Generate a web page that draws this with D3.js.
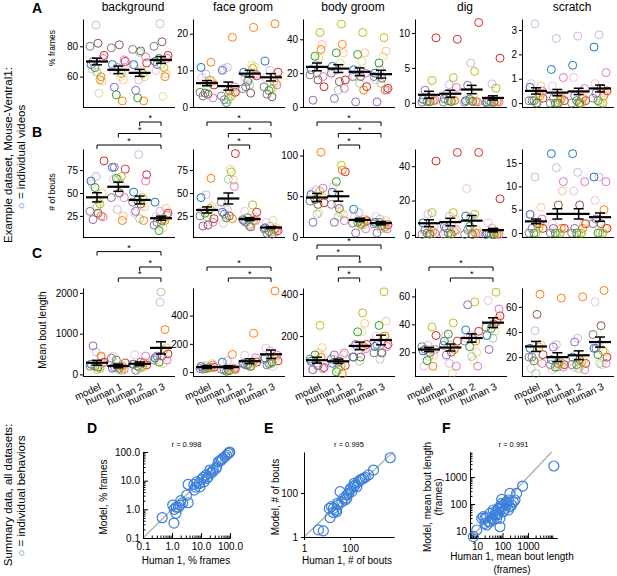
<!DOCTYPE html>
<html>
<head>
<meta charset="utf-8">
<script src="https://cdn.jsdelivr.net/npm/d3@7"></script>
<style>
  body { margin: 0; background: #fff; }
  svg { display: block; }
</style>
</head>
<body>
<svg id="fig" width="617" height="576"></svg>
<script>
const behaviors = ["background", "face groom", "body groom", "dig", "scratch"];
const groups = ["model", "human 1", "human 2", "human 3"];

// one colour per video (tab10 + faded copies)
const videoColors = ["#1f77b4", "#ff7f0e", "#2ca02c", "#d62728", "#9467bd", "#8c564b", "#e377c2",
  "#7f7f7f", "#bcbd22", "#9467bd", "#ff7f0e", "#e377c2", "#bcbd22", "#2ca02c"];
const videoAlpha = [1, 1, 1, 1, 1, 1, 1, 1, 1, 0.45, 0.45, 0.45, 0.45, 0.45];

// ---- A: % frames, rows = model, human 1, human 2, human 3; one value per video
const framesBackground = [
  [68, 60, 66, 74, 70, 82, 72, 80, 58, 94, 57, 65, 49, 63],
  [68, 44, 48, 70, 53, 81, 71, 79, 62, 66, 58, 64, 60, 66],
  [68, 44, 46, 69, 51, 77, 73, 78, 62, 58, 60, 67, 64, 76],
  [70, 60, 72, 74, 68, 83, 72, 80, 66, 95, 62, 64, 47, 68]];
const framesFaceGroom = [
  [10.8, 12.2, 3.8, 6.0, 3.0, 3.5, 2.5, 4.0, 7.3, 9.0, 7.0, 8.0, 6.5, 5.0],
  [10.0, 19.0, 1.2, 4.0, 2.0, 4.5, 5.5, 3.0, 3.0, 10.8, 4.0, 10.5, 3.5, 2.0],
  [9.5, 21.7, 7.0, 8.5, 5.5, 3.8, 9.0, 5.0, 10.5, 7.5, 11.0, 8.0, 11.5, 6.0],
  [12.5, 22.7, 4.5, 9.5, 3.5, 2.8, 6.0, 5.5, 7.0, 10.0, 6.5, 8.0, 5.0, 5.0]];
const framesBodyGroom = [
  [22, 34, 30, 12, 4, 16, 18, 19, 44, 25, 37, 22, 29, 20],
  [24, 37, 32, 16, 5, 15, 11, 20, 49, 22, 32, 21, 26, 10],
  [22, 10, 31, 12, 3, 18, 20, 18, 44, 22, 32, 18, 27, 14],
  [20, 10, 26, 11, 3, 17, 10, 18, 41, 22, 33, 16, 30, 14]];
const framesDig = [
  [0.5, 0.3, 0.2, 9.3, 1.8, 0.2, 0.4, 0.1, 3.2, 0.8, 0.2, 0.5, 0.3, 0.1],
  [0.6, 0.3, 0.3, 9.1, 1.2, 0.2, 2.2, 0.1, 3.6, 2.6, 0.4, 0.5, 0.4, 0.2],
  [0.3, 0.2, 0.5, 11.5, 2.5, 0.2, 0.1, 0.1, 4.5, 5.7, 0.2, 0.5, 1.0, 0.2],
  [0.1, 0.2, 0.1, 6.4, 0.3, 0.1, 0.1, 0.0, 2.1, 2.7, 0.1, 0.3, 0.2, 0.0]];
const framesScratch = [
  [0.65, 0.3, 0.1, 0.2, 0.1, 0.0, 0.5, 0.1, 0.4, 3.25, 0.7, 0.8, 0.2, 0.0],
  [1.38, 0.2, 0.0, 0.1, 0.2, 0.0, 1.05, 0.0, 0.1, 2.65, 0.3, 0.7, 0.1, 0.0],
  [1.55, 0.2, 0.1, 0.1, 0.3, 0.0, 0.6, 0.0, 0.0, 2.75, 0.3, 1.05, 0.0, 0.0],
  [2.3, 0.3, 0.1, 0.5, 0.4, 0.6, 1.25, 0.2, 0.0, 2.8, 0.4, 0.8, 0.0, 0.0]];
const framesMeans = [[70, 64.5, 62.5, 71], [6.5, 5.7, 9.1, 8.1], [23.7, 22.7, 20.8, 19.4], [1.15, 1.3, 1.9, 0.7], [0.5, 0.43, 0.48, 0.6]];
const framesSems = [[2.2, 2.5, 2.3, 2.2], [0.7, 1.1, 0.9, 1.0], [2.3, 2.3, 2.3, 2.3], [0.5, 0.5, 0.6, 0.3], [0.13, 0.13, 0.13, 0.14]];
const framesDomains = [[40, 98], [0, 24], [0, 52], [-0.6, 12], [-0.16, 3.45]];
const framesTicks = [[60, 80], [0, 10, 20], [0, 20, 40], [0, 5, 10], [0, 1, 2, 3]];

// ---- B: # of bouts
const boutsBackground = [
  [63, 25, 56, 85, 21, 28, 24, 30, 38, 68, 50, 60, 40, 35],
  [78, 20, 66, 76, 78, 50, 45, 45, 68, 32, 25, 65, 60, 65],
  [51, 20, 42, 70, 30, 38, 63, 40, 45, 92, 35, 28, 36, 22],
  [40, 20, 9, 28, 18, 20, 26, 15, 22, 30, 33, 24, 12, 18]];
const boutsFaceGroom = [
  [45, 66, 28, 22, 14, 15, 18, 25, 33, 48, 35, 30, 27, 24],
  [29, 22, 23, 93, 27, 25, 57, 40, 73, 32, 64, 17, 76, 65],
  [20, 20, 23, 29, 18, 13, 20, 21, 37, 15, 24, 30, 16, 14],
  [12, 10, 8, 9, 6, 5, 8, 11, 10, 14, 12, 18, 20, 7]];
const boutsBodyGroom = [
  [52, 104, 46, 42, 18, 40, 60, 44, 56, 58, 50, 55, 30, 28],
  [55, 82, 68, 80, 18, 35, 20, 40, 88, 40, 28, 62, 30, 25],
  [34, 18, 18, 20, 5, 16, 10, 17, 15, 30, 22, 25, 14, 20],
  [18, 12, 18, 15, 5, 14, 10, 16, 15, 22, 20, 25, 12, 10]];
const boutsDig = [
  [7, 2, 1, 43, 3, 0.5, 1, 0.3, 13, 12, 5, 2, 1, 0.5],
  [5, 2, 1, 48, 4, 0.5, 3, 0.5, 13, 11, 9, 2, 1, 0.5],
  [11, 1, 5, 48, 3, 0.3, 1, 0.3, 12, 10, 3, 27, 2, 0.3],
  [1, 0.5, 0.5, 21, 1, 0.2, 0.3, 0.1, 2, 4, 1, 7, 0.5, 0.2]];
const boutsScratch = [
  [4, 2, 0, 1, 1, 2, 3, 0, 1, 12, 5.5, 4, 0, 0],
  [17, 1, 0, 1, 1, 6, 11, 0, 0, 14, 9, 2, 0, 0],
  [17, 1, 0, 2, 1, 6, 11, 0, 0, 13, 2, 9, 0, 0],
  [12, 5, 0, 1, 3, 2, 11, 2, 0, 12, 1, 7, 0, 0]];
const boutsMeans = [[45.3, 56.8, 42.4, 22.5], [31.5, 44, 21.5, 12.3], [48.5, 50, 21, 17], [6.8, 7.5, 8.3, 2.8], [2.5, 4.1, 4.1, 3.4]];
const boutsSems = [[5, 5, 4.3, 2.2], [3.3, 6, 1.6, 1], [5, 6, 2, 2], [2, 2.2, 3, 1], [0.5, 1.1, 1.1, 0.9]];
const boutsDomains = [[2, 98], [2, 98], [0, 108], [-1.2, 50], [-0.85, 18]];
const boutsTicks = [[25, 50, 75], [25, 50, 75], [0, 50, 100], [0, 20, 40], [0, 5, 10, 15]];
// significant pairs: [behavior, group a, group b]
const boutsSig = [[0, 2, 3], [0, 1, 3], [0, 0, 3], [1, 0, 3], [1, 1, 3], [1, 1, 2], [2, 0, 3], [2, 1, 3], [2, 1, 2]];
const boutsSigLevel = [2, 1, 0, 2, 1, 0, 2, 1, 0];

// ---- C: mean bout length
const lengthBackground = [
  [250, 450, 200, 300, 700, 180, 280, 200, 150, 550, 420, 250, 160, 120],
  [150, 200, 350, 280, 180, 150, 120, 400, 100, 200, 150, 450, 180, 120],
  [250, 280, 200, 230, 100, 300, 450, 250, 180, 200, 300, 480, 200, 150],
  [400, 1100, 300, 500, 450, 450, 350, 350, 600, 1770, 650, 420, 260, 2020]];
const lengthFaceGroom = [
  [40, 30, 25, 35, 20, 30, 50, 25, 35, 45, 60, 40, 30, 25],
  [70, 125, 5, 20, 15, 10, 25, 20, 15, 80, 30, 20, 15, 10],
  [60, 275, 50, 70, 50, 40, 100, 60, 70, 55, 80, 120, 45, 40],
  [100, 575, 60, 80, 50, 70, 120, 90, 110, 150, 100, 170, 40, 60]];
const lengthBodyGroom = [
  [80, 100, 110, 50, 40, 60, 45, 90, 250, 70, 145, 40, 120, 60],
  [70, 20, 30, 60, 110, 80, 120, 90, 60, 70, 110, 90, 60, 40],
  [100, 150, 220, 160, 160, 100, 140, 100, 310, 120, 260, 150, 220, 80],
  [150, 200, 250, 160, 160, 120, 150, 120, 410, 90, 270, 200, 200, 120]];
const lengthDig = [
  [21, 10, 14, 32, 22, 20, 22, 24, 38, 25, 18, 10, 22, 17],
  [28, 22, 33, 28, 18, 20, 10, 25, 41, 12, 23, 32, 5, 25],
  [36, 28, 24, 35, 54, 30, 10, 28, 56, 32, 20, 30, 14, 17],
  [32, 42, 37, 46, 22, 40, 51, 38, 63, 40, 44, 57, 35, 30]];
const lengthScratch = [
  [27, 70, 17, 22, 20, 54, 15, 20, 28, 41, 30, 11, 17, 7],
  [18, 67, 12, 14, 28, 15, 12, 14, 16, 30, 15, 10, 13, 12],
  [20, 68, 14, 15, 32, 18, 10, 14, 16, 35, 18, 12, 13, 11],
  [27, 73, 22, 20, 27, 45, 15, 38, 25, 30, 24, 64, 14, 15]];
const lengthMeans = [[285, 205, 260, 650], [35, 35, 77, 126], [85, 80, 153, 181], [22, 23.4, 30.2, 41.2], [28.5, 20, 21.5, 32]];
const lengthSems = [[60, 45, 45, 150], [10, 10, 17, 30], [14, 10, 18, 23], [1.5, 2.5, 3, 3.5], [4, 3.5, 3.5, 4]];
const lengthDomains = [[-40, 2120], [-28, 596], [10, 428], [3, 66], [5, 75]];
const lengthTicks = [[0, 1000, 2000], [0, 200, 400], [200, 400], [20, 40, 60], [20, 40, 60]];
const lengthSig = [[0, 0, 3], [0, 2, 3], [0, 1, 3], [1, 0, 3], [1, 1, 3], [2, 0, 3], [2, 0, 2], [2, 1, 3], [2, 1, 2], [3, 0, 3], [3, 1, 3]];
const lengthSigLevel = [2.4, 1, 0, 1, 0, 3, 2, 1, 0, 1, 0];

// ---- D-F: summary, one point per behavior (human 1 vs model)
const humanFrames = [0.46, 1.17, 1.06, 1.37, 1.65, 1.88, 2.33, 1.4, 3.6, 3.6, 3.2, 5.9, 5.7, 7.1, 8.8, 9.2, 10.6, 12.7, 12, 14.9,
  17.8, 15.8, 21.5, 20.3, 26.5, 33, 34.8, 39.5, 45, 51, 55, 67, 76, 87, 95, 98, 6.5, 2.0, 1.2, 25];
const modelFrames = [0.51, 0.33, 1.41, 0.73, 1.17, 1.41, 1.7, 1.2, 1.7, 7.4, 3.1, 4.7, 7.4, 9.1, 8.0, 6.1, 11.1, 9.1, 13, 15.7,
  13.6, 12, 18.8, 23.4, 23.4, 26.5, 30.5, 45.6, 49, 52, 60, 68, 78, 89, 96, 100, 6.0, 2.0, 1.0, 20];
const humanBouts = [4.2, 6.9, 13.5, 12.5, 15.6, 18.8, 24.7, 31, 36.7, 43.6, 51, 60, 72, 85, 100, 107, 118, 140, 150, 165,
  195, 230, 270, 320, 380, 450, 625, 1030, 5500, 26, 28, 72, 18.8];
const modelBouts = [2.1, 1.9, 7.6, 20, 24, 13, 17, 28.5, 115, 40, 57, 48, 81, 96, 137, 164, 115, 193, 275, 230,
  193, 325, 390, 420, 465, 520, 660, 1100, 4000, 14, 34, 57, 20];
const humanLength = [7.2, 9.7, 15.3, 17.7, 20.6, 24, 27.9, 37.6, 32.4, 43.7, 50.8, 59, 68.7, 79.8, 92.7, 79.8, 79.8, 108, 125, 146,
  170, 197, 266, 309, 359, 197, 617, 10400, 92.7, 125, 170, 230, 59, 43.7, 32.4, 20.6, 24, 55, 100, 150, 65, 85];
const modelLength = [6.2, 10.9, 29.5, 34, 19.3, 16.7, 22, 29.5, 45, 60, 39, 45, 69, 79, 106, 14.4, 29.5, 52, 69, 92,
  141, 79, 122, 141, 250, 250, 464, 2570, 149, 106, 60, 92, 29.5, 25.6, 22, 29.5, 33, 55, 90, 120, 40, 65];
const correlations = ["r = 0.998", "r = 0.995", "r = 0.991"];

// ------------------------------------------------------------------
const font = '"Liberation Sans", Arial, Helvetica, sans-serif';
const blue = "#3b7fdb";
const svg = d3.select("#fig").attr("font-family", font);

const plotLeft = [83, 193, 303, 415, 522];
const plotWidth = 92;
// horizontal spread of the videos inside a group
const jitter = [-6, 4, -2, 7, -4, 1, 6, -7, 3, -1, 5, -5, 2, 0];

const rows = [
  { top: 19, bottom: 107, label: "% frames", labelSize: 8.5, labelX: 55, labelY: 48,
    values: [framesBackground, framesFaceGroom, framesBodyGroom, framesDig, framesScratch],
    means: framesMeans, sems: framesSems, domains: framesDomains, ticks: framesTicks, sig: [], levels: [] },
  { top: 149, bottom: 237, label: "# of bouts", labelSize: 8.5, labelX: 55, labelY: 192,
    values: [boutsBackground, boutsFaceGroom, boutsBodyGroom, boutsDig, boutsScratch],
    means: boutsMeans, sems: boutsSems, domains: boutsDomains, ticks: boutsTicks,
    sig: boutsSig, levels: boutsSigLevel, sigBase: 145, sigStep: 11.5 },
  { top: 288, bottom: 376, label: "Mean bout length", labelSize: 10, labelX: 46, labelY: 330,
    values: [lengthBackground, lengthFaceGroom, lengthBodyGroom, lengthDig, lengthScratch],
    means: lengthMeans, sems: lengthSems, domains: lengthDomains, ticks: lengthTicks,
    sig: lengthSig, levels: lengthSigLevel, sigBase: 278, sigStep: 11 },
];

function styleAxis(a, size) {
  a.attr("font-family", font).attr("font-size", size || 10);
  a.selectAll("text").attr("fill", "#000");
  a.selectAll("line,path").attr("stroke", "#000");
}

rows.forEach((row, ri) => {
  // row y label
  svg.append("text")
    .attr("transform", `translate(${row.labelX},${row.labelY}) rotate(-90)`)
    .attr("text-anchor", "middle")
    .attr("font-size", row.labelSize)
    .text(row.label);

  const xScales = [];

  behaviors.forEach((beh, bi) => {
    const L = plotLeft[bi];
    const g = svg.append("g");
    const x = d3.scalePoint().domain(groups).range([L + 14, L + 78]);
    const y = d3.scaleLinear().domain(row.domains[bi]).range([row.bottom, row.top]);
    xScales.push(x);

    if (ri === 0) {
      svg.append("text")
        .attr("x", L + 50).attr("y", 11)
        .attr("text-anchor", "middle")
        .attr("font-size", 12)
        .text(beh);
    }

    g.append("g")
      .attr("transform", `translate(${L},0)`)
      .call(d3.axisLeft(y).tickValues(row.ticks[bi]).tickFormat(d3.format("~g"))
        .tickSize(3).tickSizeOuter(0).tickPadding(2))
      .call(a => styleAxis(a));

    g.append("line")
      .attr("x1", L).attr("x2", L + plotWidth)
      .attr("y1", row.bottom + 0.5).attr("y2", row.bottom + 0.5)
      .attr("stroke", "#000");

    if (ri === 2) {
      g.append("g")
        .attr("transform", `translate(0,${row.bottom})`)
        .call(d3.axisBottom(x).tickSize(0))
        .call(a => {
          a.select(".domain").remove();
          styleAxis(a);
          a.selectAll("text")
            .attr("y", 0).attr("dy", 0)
            .attr("text-anchor", "end")
            .attr("transform", "translate(4,13) rotate(-25)");
        });
    }

    // individual videos
    const pts = [];
    row.values[bi].forEach((arr, gi) => arr.forEach((v, vi) => pts.push({ gi, vi, v })));
    g.selectAll("circle.pt")
      .data(pts)
      .join("circle")
      .attr("class", "pt")
      .attr("cx", d => x(groups[d.gi]) + jitter[d.vi])
      .attr("cy", d => y(d.v))
      .attr("r", 4)
      .attr("fill", "none")
      .attr("stroke", d => videoColors[d.vi])
      .attr("stroke-opacity", d => videoAlpha[d.vi])
      .attr("stroke-width", 1);

    // mean +- sem
    groups.forEach((gr, gi) => {
      const cx = x(gr);
      const m = row.means[bi][gi];
      const s = row.sems[bi][gi];
      g.append("line")
        .attr("x1", cx).attr("x2", cx)
        .attr("y1", y(m - s)).attr("y2", y(m + s))
        .attr("stroke", "#000").attr("stroke-width", 1.5);
      [m - s, m + s].forEach(v => {
        g.append("line")
          .attr("x1", cx - 5).attr("x2", cx + 5)
          .attr("y1", y(v)).attr("y2", y(v))
          .attr("stroke", "#000").attr("stroke-width", 1.5);
      });
      g.append("line")
        .attr("x1", cx - 11).attr("x2", cx + 11)
        .attr("y1", y(m)).attr("y2", y(m))
        .attr("stroke", "#000").attr("stroke-width", 2.2);
    });
  });

  // significance brackets
  row.sig.forEach((s, i) => {
    const x = xScales[s[0]];
    const x1 = x(groups[s[1]]), x2 = x(groups[s[2]]);
    const yy = row.sigBase - row.levels[i] * row.sigStep;
    svg.append("path")
      .attr("d", `M${x1},${yy + 4}V${yy}H${x2}V${yy + 4}`)
      .attr("fill", "none")
      .attr("stroke", "#000")
      .attr("stroke-width", 1);
    svg.append("text")
      .attr("x", (x1 + x2) / 2).attr("y", yy - 1)
      .attr("text-anchor", "middle")
      .attr("font-size", 9)
      .text("*");
  });
});

// ------------------------------------------------------------------
const scatterPanels = [
  { xv: humanFrames, yv: modelFrames, left: 143, right: 230, top: 452, bottom: 538,
    xdom: [0.1, 100], ydom: [0.1, 100], major: [0.1, 1, 10, 100], fmt: d3.format(".1f"), minor: true,
    r: correlations[0], xlabel: ["Human 1, % frames"], ylabel: ["Model, % frames"], ylx: [107], xlx: 186 },
  { xv: humanBouts, yv: modelBouts, left: 304, right: 394, top: 452, bottom: 537,
    xdom: [1, 8000], ydom: [1, 7300], major: [1, 100], fmt: d3.format("d"), minor: false,
    r: correlations[1], xlabel: ["Human 1, # of bouts"], ylabel: ["Model, # of bouts"], ylx: [279], xlx: 347 },
  { xv: humanLength, yv: modelLength, left: 470, right: 557, top: 452, bottom: 538,
    xdom: [5.3, 13800], ydom: [5.5, 8500], major: [10, 100, 1000], fmt: d3.format("d"), minor: true,
    r: correlations[2], xlabel: ["Human 1, mean bout length", "(frames)"],
    ylabel: ["Model, mean bout length", "(frames)"], ylx: [431, 442], xlx: 512 },
];

const isMajor = t => Math.abs(Math.log10(t) - Math.round(Math.log10(t))) < 1e-6;

scatterPanels.forEach(p => {
  const g = svg.append("g");
  const xs = d3.scaleLog().domain(p.xdom).range([p.left, p.right]);
  const ys = d3.scaleLog().domain(p.ydom).range([p.bottom, p.top]);

  // diagonal
  const lo = Math.max(p.xdom[0], p.ydom[0]);
  const hi = Math.min(p.xdom[1], p.ydom[1]);
  g.append("line")
    .attr("x1", xs(lo)).attr("y1", ys(lo))
    .attr("x2", xs(hi)).attr("y2", ys(hi))
    .attr("stroke", "#b4b4b4").attr("stroke-width", 1.5);

  const tick = p.minor ? -5 : 3;
  if (p.minor) {
    g.append("g").attr("transform", `translate(0,${p.bottom})`)
      .call(d3.axisBottom(xs).tickValues(xs.ticks().filter(t => !isMajor(t))).tickSize(-2.5).tickSizeOuter(0).tickFormat(""))
      .call(a => styleAxis(a));
    g.append("g").attr("transform", `translate(${p.left},0)`)
      .call(d3.axisLeft(ys).tickValues(ys.ticks().filter(t => !isMajor(t))).tickSize(-2.5).tickSizeOuter(0).tickFormat(""))
      .call(a => styleAxis(a));
  }
  g.append("g").attr("transform", `translate(0,${p.bottom})`)
    .call(d3.axisBottom(xs).tickValues(p.major).tickSize(tick).tickSizeOuter(0).tickPadding(5).tickFormat(p.fmt))
    .call(a => styleAxis(a));
  g.append("g").attr("transform", `translate(${p.left},0)`)
    .call(d3.axisLeft(ys).tickValues(p.major).tickSize(tick).tickSizeOuter(0).tickPadding(3).tickFormat(p.fmt))
    .call(a => styleAxis(a));

  g.selectAll("circle.sc")
    .data(p.xv.map((v, i) => [v, p.yv[i]]))
    .join("circle")
    .attr("class", "sc")
    .attr("cx", d => xs(d[0]))
    .attr("cy", d => ys(d[1]))
    .attr("r", 5)
    .attr("fill", "none")
    .attr("stroke", blue)
    .attr("stroke-width", 1.2);

  g.append("text")
    .attr("x", (p.left + p.right) / 2).attr("y", p.top - 5)
    .attr("text-anchor", "middle")
    .attr("font-size", 7.5)
    .text(p.r);

  p.xlabel.forEach((t, i) => {
    g.append("text")
      .attr("x", p.xlx).attr("y", (p.xlabel.length > 1 ? 560 : 564) + i * 13)
      .attr("text-anchor", "middle")
      .attr("font-size", 10)
      .text(t);
  });
  p.ylabel.forEach((t, i) => {
    g.append("text")
      .attr("transform", `translate(${p.ylx[i]},497) rotate(-90)`)
      .attr("text-anchor", "middle")
      .attr("font-size", 10)
      .text(t);
  });
});

// ------------------------------------------------------------------
// panel letters
[["A", 32, 13], ["B", 32, 137], ["C", 32, 258], ["D", 87, 433], ["E", 264, 433], ["F", 442, 433]]
  .forEach(([t, x, y]) => {
    svg.append("text").attr("x", x).attr("y", y)
      .attr("font-size", 14).attr("font-weight", "bold").text(t);
  });

// left side descriptions
function sideLabel(x, y, first, rest) {
  const t = svg.append("text")
    .attr("transform", `translate(${x},${y}) rotate(-90)`)
    .attr("text-anchor", "middle")
    .attr("font-size", 11.5);
  if (first) t.append("tspan").attr("fill", blue).text(first);
  t.append("tspan").text(rest);
}
sideLabel(12, 155, null, "Example dataset, Mouse-Ventral1:");
sideLabel(25, 157, "\u25CB", " = individual videos");
sideLabel(12, 495, null, "Summary data, all datasets:");
sideLabel(25, 496, "\u25CB", " = individual behaviors");
</script>
</body>
</html>
